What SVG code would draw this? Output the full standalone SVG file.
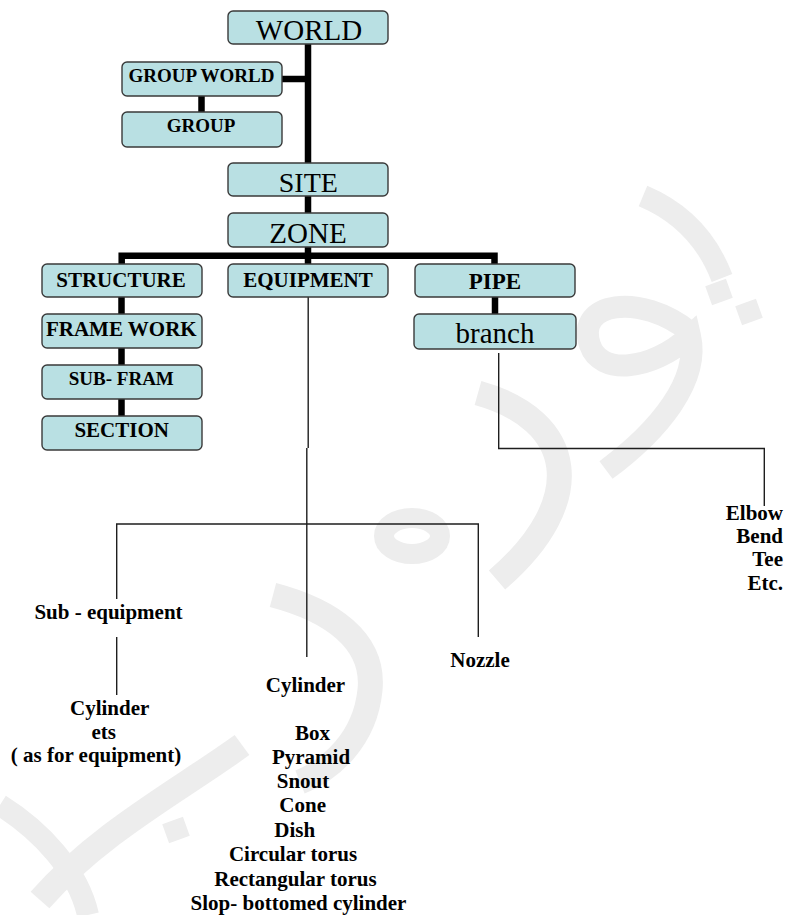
<svg xmlns="http://www.w3.org/2000/svg" width="786" height="915" viewBox="0 0 786 915">
<style>
.bg{fill:#ffffff}
.wm{fill:none;stroke:#ededed}
.wmf{fill:#ededed}
.box{fill:#b9e0e3;stroke:#3a3a3a;stroke-width:1.4}
.thick{fill:none;stroke:#000;stroke-width:6.5}
.thin{fill:none;stroke:#1e1e1e;stroke-width:1.4}
text{font-family:"Liberation Serif","Times New Roman",serif;fill:#000;text-anchor:middle}
.b{font-weight:bold;font-size:21px}
.r{font-weight:normal;font-size:29px}
.e{text-anchor:end}
</style>
<rect class="bg" x="0" y="0" width="786" height="915"/>
<g id="watermark">
<path class="wm" stroke-width="22" d="M643,196 Q700,220 722,278"/>
<rect class="wmf" x="708" y="282" width="22" height="20" transform="rotate(-20 719 292)"/>
<rect class="wmf" x="738" y="302" width="22" height="20" transform="rotate(-20 749 312)"/>
<path class="wm" stroke-width="22" d="M690,332 C640,292 575,302 590,345 C600,375 650,372 690,336 C700,380 660,430 606,470"/>
<path class="wm" stroke-width="25" d="M478,393 C575,420 590,500 497,580"/>
<ellipse class="wm" stroke-width="20" cx="412" cy="536" rx="28" ry="18"/>
<path class="wm" stroke-width="25" d="M273,595 C330,610 375,640 370,690 C365,740 330,770 300,782"/>
<path class="wm" stroke-width="25" d="M242,745 C180,790 100,832 40,900"/>
<rect class="wmf" x="165" y="820" width="22" height="20" transform="rotate(-20 176 830)"/>
<path class="wm" stroke-width="22" d="M0,805 C40,830 78,870 88,915"/>
</g>
<g id="connectors">
<path class="thick" d="M308,44 V163"/>
<path class="thick" d="M282,79 H308"/>
<path class="thick" d="M201.5,96 V112"/>
<path class="thick" d="M308,196 V213"/>
<path class="thick" d="M308,247 V264"/>
<path class="thick" d="M121.7,264 V255.7 H494.5 V264"/>
<path class="thick" d="M121.5,297 V314"/>
<path class="thick" d="M121.5,348 V365"/>
<path class="thick" d="M121.5,399 V416"/>
<path class="thick" d="M495,297 V314"/>
<path class="thin" d="M308.2,297 V448 M306.8,448 V657"/>
<path class="thin" d="M498.7,353 V448.5 H764.3 V506"/>
<path class="thin" d="M116.7,599 V524 H478.3 V637"/>
<path class="thin" d="M116.7,637 V695"/>
</g>
<g id="world"><rect class="box" x="228" y="11" width="160" height="33" rx="5"/><text class="r" x="309" y="40">WORLD</text></g>
<g id="group-world"><rect class="box" x="122" y="62" width="160" height="34" rx="5"/><text class="b" x="201.5" y="82" style="font-size:19px">GROUP WORLD</text></g>
<g id="group"><rect class="box" x="122" y="112" width="160" height="35" rx="5"/><text class="b" x="201" y="132" style="font-size:19px">GROUP</text></g>
<g id="site"><rect class="box" x="228" y="163" width="160" height="33" rx="5"/><text class="r" x="308.3" y="192" style="font-size:28px">SITE</text></g>
<g id="zone"><rect class="box" x="228" y="213" width="160" height="34" rx="5"/><text class="r" x="308" y="243">ZONE</text></g>
<g id="structure"><rect class="box" x="42" y="264" width="160" height="33" rx="5"/><text class="b" x="121" y="287">STRUCTURE</text></g>
<g id="equipment"><rect class="box" x="228" y="264" width="160" height="33" rx="5"/><text class="b" x="308" y="287">EQUIPMENT</text></g>
<g id="pipe"><rect class="box" x="415" y="264" width="160" height="33" rx="5"/><text class="b" x="495" y="289" style="font-size:23px">PIPE</text></g>
<g id="frame-work"><rect class="box" x="42" y="314" width="160" height="34" rx="5"/><text class="b" x="121.3" y="336">FRAME WORK</text></g>
<g id="branch"><rect class="box" x="414" y="314" width="162" height="35" rx="5"/><text class="r" x="495" y="343">branch</text></g>
<g id="sub-fram"><rect class="box" x="42" y="365" width="160" height="34" rx="5"/><text class="b" x="121.3" y="385" style="font-size:19px">SUB- FRAM</text></g>
<g id="section"><rect class="box" x="42" y="416" width="160" height="34" rx="5"/><text class="b" x="121.7" y="437">SECTION</text></g>
<g id="sub-equipment"><text class="b" x="108.5" y="619">Sub - equipment</text></g>
<g id="sub-equipment-primitives">
<text class="b" x="109.7" y="715">Cylinder</text>
<text class="b" x="103.7" y="739">ets</text>
<text class="b" x="96" y="762">( as for equipment)</text>
</g>
<g id="primitives">
<text class="b" x="305.5" y="691.5">Cylinder</text>
<text class="b" x="312.5" y="740">Box</text>
<text class="b" x="311" y="764">Pyramid</text>
<text class="b" x="303" y="788">Snout</text>
<text class="b" x="302.7" y="812">Cone</text>
<text class="b" x="294.7" y="836.5">Dish</text>
<text class="b" x="293" y="861">Circular torus</text>
<text class="b" x="295.5" y="886">Rectangular torus</text>
<text class="b" x="298.5" y="910">Slop- bottomed cylinder</text>
</g>
<g id="nozzle"><text class="b" x="480" y="666.5">Nozzle</text></g>
<g id="pipe-components">
<text class="b e" x="783" y="520">Elbow</text>
<text class="b e" x="783" y="543">Bend</text>
<text class="b e" x="783" y="566">Tee</text>
<text class="b e" x="783" y="590">Etc.</text>
</g>
</svg>
